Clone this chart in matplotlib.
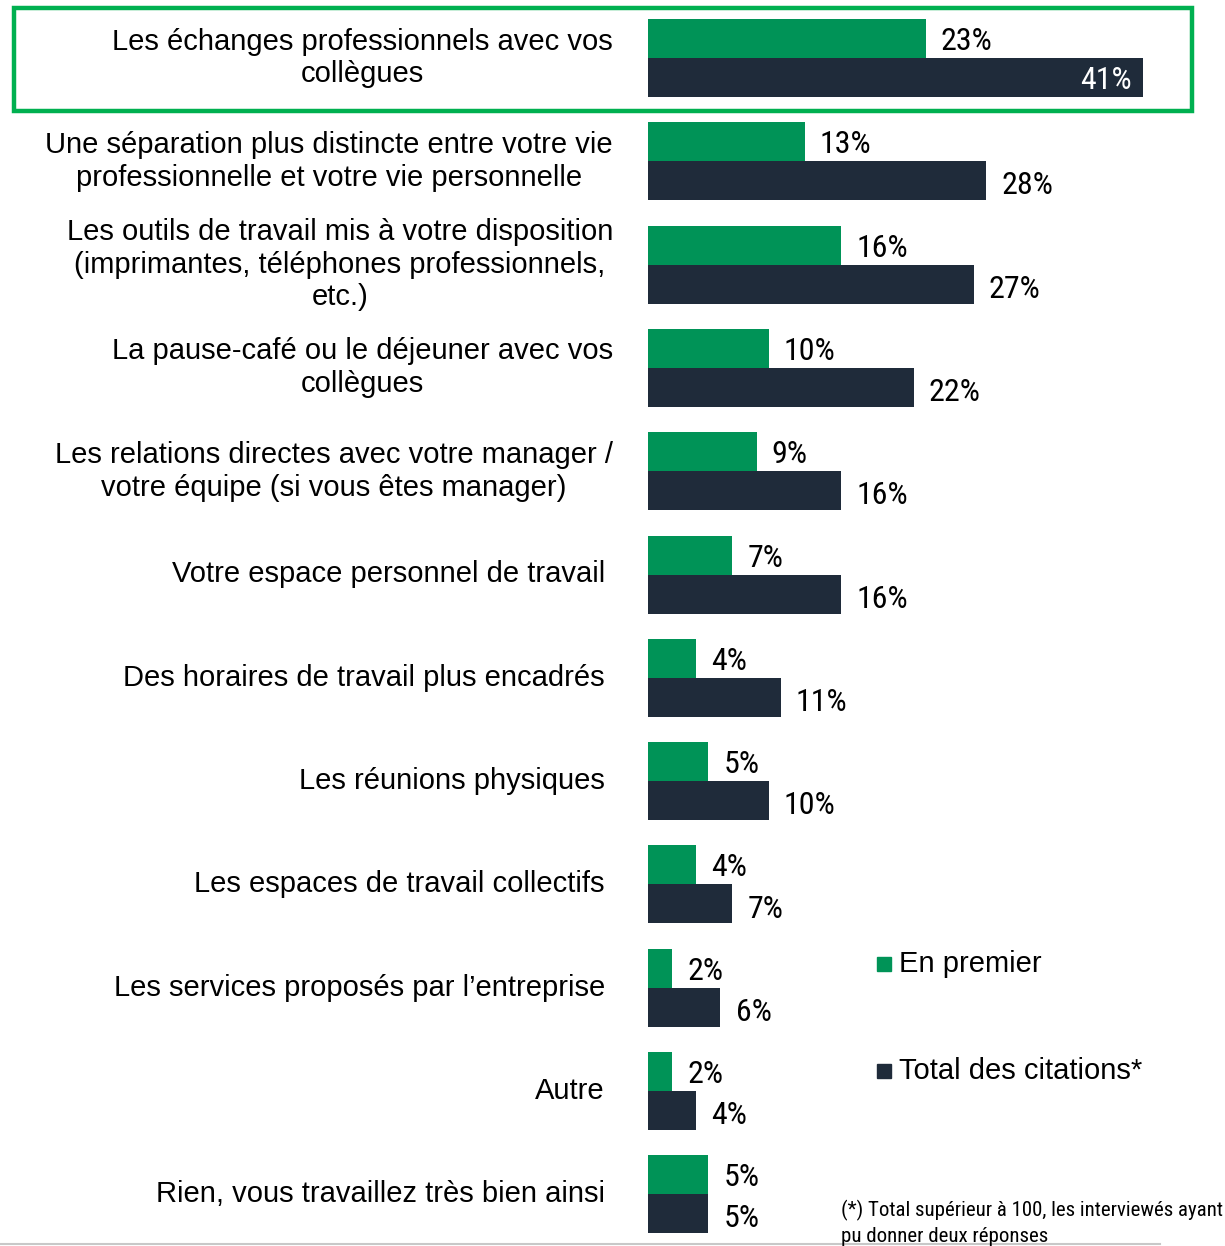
import matplotlib
matplotlib.use("Agg")
import matplotlib.pyplot as plt
from matplotlib.patches import Rectangle
from matplotlib.lines import Line2D
from matplotlib import font_manager

categories = [
    "Les échanges professionnels avec vos\ncollègues",
    "Une séparation plus distincte entre votre vie\nprofessionnelle et votre vie personnelle",
    "Les outils de travail mis à votre disposition\n(imprimantes, téléphones professionnels,\netc.)",
    "La pause-café ou le déjeuner avec vos\ncollègues",
    "Les relations directes avec votre manager /\nvotre équipe (si vous êtes manager)",
    "Votre espace personnel de travail",
    "Des horaires de travail plus encadrés",
    "Les réunions physiques",
    "Les espaces de travail collectifs",
    "Les services proposés par l’entreprise",
    "Autre",
    "Rien, vous travaillez très bien ainsi",
]
en_premier = [23, 13, 16, 10, 9, 7, 4, 5, 4, 2, 2, 5]
total_citations = [41, 28, 27, 22, 16, 16, 11, 10, 7, 6, 4, 5]
legend_labels = ["En premier", "Total des citations*"]
footnote = "(*) Total supérieur à 100, les interviewés ayant\npu donner deux réponses"

GREEN = "#009357"
DARK = "#1f2b3a"
BOX = "#00b050"

# a condensed face for the numbers, if one is installed
names = {f.name for f in font_manager.fontManager.ttflist}
narrow = None
for cand in ["Liberation Sans Narrow", "Arial Narrow", "Roboto Condensed",
             "DejaVu Sans Condensed", "Open Sans Condensed", "Noto Sans Condensed"]:
    if cand in names:
        narrow = cand
        break
plt.rcParams["font.family"] = ["Liberation Sans", "DejaVu Sans"]
if narrow:
    num_font = dict(family=narrow, fontsize=23)
    foot_font = dict(family=narrow, fontsize=15)
else:
    num_font = dict(family="Roboto", fontsize=20)
    foot_font = dict(family="Roboto", fontsize=13.5)

W, H = 1225, 1246
fig = plt.figure(figsize=(W / 100, H / 100), dpi=100)

# axes from x=648px to the right edge, full height; 12.07 px per %
ax = fig.add_axes([648 / W, 0, 1 - 648 / W, 1])
row = 103.3
ax.set_xlim(0, (W - 648) / 12.07)
ax.set_ylim((H - 58) / row, -58 / row)
ax.axis("off")

bh = 39 / row
for i, (g, t) in enumerate(zip(en_premier, total_citations)):
    ax.barh(i - bh / 2, g, height=bh, color=GREEN, edgecolor="none")
    ax.barh(i + bh / 2, t, height=bh, color=DARK, edgecolor="none")
    ax.text(g + 1.25, i - bh / 2 + 0.03, f"{g}%", va="center", ha="left",
            color="black", **num_font)
    if t >= 35:
        ax.text(t - 0.9, i + bh / 2 + 0.03, f"{t}%", va="center", ha="right",
                color="white", **num_font)
    else:
        ax.text(t + 1.25, i + bh / 2 + 0.05, f"{t}%", va="center", ha="left",
                color="black", **num_font)

# category labels
for i, c in enumerate(categories):
    y = 1 - (58 + i * row) / H
    x = 613 / W if "\n" in c else 605 / W
    fig.text(x, y, c, fontsize=21, ha="right", va="center",
             multialignment="center", linespacing=1.22)

# legend
for lab, col, yp in zip(legend_labels, [GREEN, DARK], [964, 1071]):
    fig.patches.append(Rectangle((877 / W, 1 - (yp + 7) / H), 14 / W, 14 / H,
                                 transform=fig.transFigure, color=col))
    fig.text(899 / W, 1 - yp / H, lab, fontsize=21, ha="left", va="center")

fig.text(841 / W, 1 - 1223 / H, footnote, ha="left", va="center",
         linespacing=1.45, **foot_font)

# highlight box on the first row
fig.patches.append(Rectangle((14 / W, 1 - 111 / H), (1192 - 14) / W, (111 - 8) / H,
                             transform=fig.transFigure, fill=False,
                             edgecolor=BOX, linewidth=3.2))
fig.lines.append(Line2D([0, 1160 / W], [1 - 1244 / H] * 2, transform=fig.transFigure,
                        color="#c8c8c8", linewidth=1.5))

fig.savefig("out.png", dpi=100)
